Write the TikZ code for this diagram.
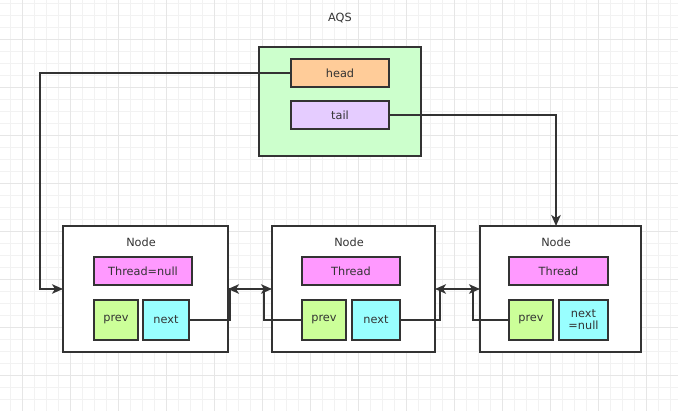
\documentclass[tikz,border=0pt]{standalone}
\usepackage{fontspec}
\setmainfont{DejaVu Sans}
\usetikzlibrary{arrows.meta}
\definecolor{stk}{HTML}{333333}
\definecolor{gridminor}{HTML}{F2F2F2}
\definecolor{gridmajor}{HTML}{E6E6E6}
\definecolor{aqsfill}{HTML}{CCFFCC}
\definecolor{headfill}{HTML}{FFCC99}
\definecolor{tailfill}{HTML}{E5CCFF}
\definecolor{thrfill}{HTML}{FF99FF}
\definecolor{prevfill}{HTML}{CCFF99}
\definecolor{nextfill}{HTML}{99FFFF}
\tikzset{
  box/.style={draw=stk, line width=2pt, inner sep=0pt, outer sep=0pt,
    font=\fontsize{11.3}{12}\selectfont, text=stk, align=center},
  lbl/.style={inner sep=0pt, font=\fontsize{11.3}{12}\selectfont, text=stk},
  conn/.style={draw=stk, line width=1.6pt},
  arr/.style={conn, -{Stealth[length=11pt,width=9.5pt,inset=3pt]}},
}
\begin{document}
\begin{tikzpicture}[x=1pt,y=-1pt]
\useasboundingbox (0,0) rectangle (678,411);
\fill[white] (0,0) rectangle (678,411);
% grid
\foreach \i in {0,...,56} {
  \pgfmathsetmacro\gx{10.7+12*\i}
  \draw[gridminor, line width=1pt] (\gx,0) -- (\gx,411);
}
\foreach \i in {0,...,34} {
  \pgfmathsetmacro\gy{3.3+12*\i}
  \draw[gridminor, line width=1pt] (0,\gy) -- (678,\gy);
}
\foreach \i in {0,...,14} {
  \pgfmathsetmacro\gx{22.7+48*\i}
  \draw[gridmajor, line width=1pt] (\gx,0) -- (\gx,411);
}
\foreach \i in {0,...,8} {
  \pgfmathsetmacro\gy{39.3+48*\i}
  \draw[gridmajor, line width=1pt] (0,\gy) -- (678,\gy);
}

% AQS
\node[lbl] (title) at (340,18) {AQS};
\node[box, fill=aqsfill, minimum width=162pt, minimum height=109pt] (aqs) at (340,101.5) {};
\node[box, fill=headfill, minimum width=98pt, minimum height=28pt] (head) at (340,73) {head};
\node[box, fill=tailfill, minimum width=98pt, minimum height=28pt] (tail) at (340,115) {tail};

% Nodes
\node[box, fill=white, minimum width=165pt, minimum height=126pt] (n1) at (145.5,289) {};
\node[box, fill=white, minimum width=163pt, minimum height=126pt] (n2) at (353.5,289) {};
\node[box, fill=white, minimum width=161pt, minimum height=126pt] (n3) at (560.5,289) {};

\node[lbl] (n1t) at (141,242) {Node};
\node[lbl] (n2t) at (349,242) {Node};
\node[lbl] (n3t) at (556,242) {Node};

\node[box, fill=thrfill, minimum width=98pt, minimum height=28pt] (th1) at (143,271) {Thread=null};
\node[box, fill=thrfill, minimum width=98pt, minimum height=28pt] (th2) at (351,271) {Thread};
\node[box, fill=thrfill, minimum width=99pt, minimum height=28pt] (th3) at (558.5,271) {Thread};

\node[box, fill=prevfill, minimum width=44pt, minimum height=40pt] (p1) at (116,320) {prev};
\node[box, fill=nextfill, minimum width=46pt, minimum height=40pt] (x1) at (166,320) {next};
\node[box, fill=prevfill, minimum width=44pt, minimum height=40pt] (p2) at (324,320) {prev};
\node[box, fill=nextfill, minimum width=48pt, minimum height=40pt] (x2) at (376,320) {next};
\node[box, fill=prevfill, minimum width=44pt, minimum height=40pt] (p3) at (531,320) {prev};
\node[box, fill=nextfill, minimum width=49pt, minimum height=40pt] (x3) at (583.5,320) {next\\=null};

% connectors
\coordinate (hl) at (40,73);
\draw[arr] (head.west) -- (hl) |- (n1.west);
\coordinate (tr) at (556,115);
\coordinate (n3in) at (556,226);
\draw[arr] (tail.east) -- (tr) -- (n3in);

\coordinate (a1) at (230,320);
\coordinate (a2) at (230,289);
\draw[arr] (x1.east) -- (a1) -- (a2) -- (n2.west);
\coordinate (b1) at (264,320);
\coordinate (b2) at (264,289);
\draw[arr] (p2.west) -- (b1) -- (b2) -- (n1.east);

\coordinate (c1) at (440,320);
\coordinate (c2) at (440,289);
\draw[arr] (x2.east) -- (c1) -- (c2) -- (n3.west);
\coordinate (d1) at (473,320);
\coordinate (d2) at (473,289);
\draw[arr] (p3.west) -- (d1) -- (d2) -- (n2.east);
\end{tikzpicture}
\end{document}
